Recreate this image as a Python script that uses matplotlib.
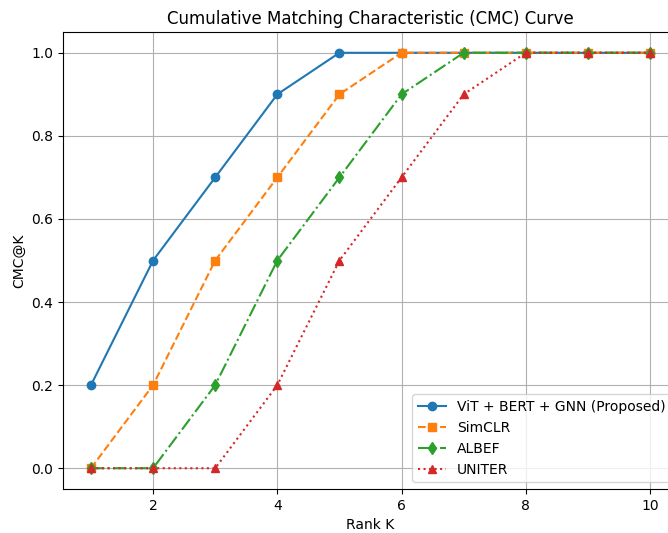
import numpy as np
import matplotlib
matplotlib.use('Agg')
import matplotlib.pyplot as plt

RANKS = np.arange(1, 11)
VIT = [0.2, 0.5, 0.7, 0.9, 1.0, 1.0, 1.0, 1.0, 1.0, 1.0]
SIMCLR = [0.0, 0.2, 0.5, 0.7, 0.9, 1.0, 1.0, 1.0, 1.0, 1.0]
ALBEF = [0.0, 0.0, 0.2, 0.5, 0.7, 0.9, 1.0, 1.0, 1.0, 1.0]
UNITER = [0.0, 0.0, 0.0, 0.2, 0.5, 0.7, 0.9, 1.0, 1.0, 1.0]

fig = plt.figure(figsize=(6.68, 5.33), dpi=100)
# the original image is cut off on the right, so the axes run past the figure edge
ax = fig.add_axes([63/668, 44/533, 615/668, 457/533])

ax.plot(RANKS, VIT, marker='o', linestyle='-', label='ViT + BERT + GNN (Proposed)')
ax.plot(RANKS, SIMCLR, marker='s', linestyle='--', label='SimCLR')
ax.plot(RANKS, ALBEF, marker='d', linestyle='-.', label='ALBEF')
ax.plot(RANKS, UNITER, marker='^', linestyle=':', label='UNITER')

ax.set_title('Cumulative Matching Characteristic (CMC) Curve')
ax.set_xlabel('Rank K')
ax.set_ylabel('CMC@K')
ax.grid(True)
ax.legend(loc='lower right')

fig.savefig('out.png', dpi=100)
